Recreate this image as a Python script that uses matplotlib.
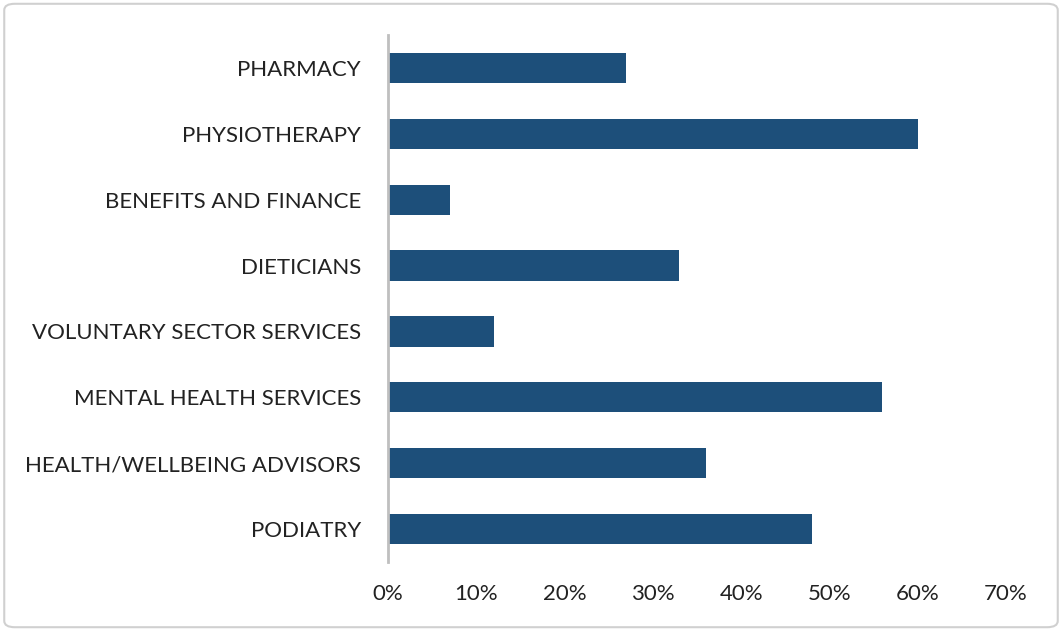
import matplotlib
matplotlib.use("Agg")
import matplotlib.pyplot as plt
from matplotlib.patches import FancyBboxPatch
from matplotlib.ticker import PercentFormatter

categories = [
    "PHARMACY",
    "PHYSIOTHERAPY",
    "BENEFITS AND FINANCE",
    "DIETICIANS",
    "VOLUNTARY SECTOR SERVICES",
    "MENTAL HEALTH SERVICES",
    "HEALTH/WELLBEING ADVISORS",
    "PODIATRY",
]
values = [27, 60, 7, 33, 12, 56, 36, 48]
x_ticks = [0, 10, 20, 30, 40, 50, 60, 70]

plt.rcParams["font.family"] = ["Lato", "DejaVu Sans"]

fig = plt.figure(figsize=(10.62, 6.31), dpi=100)
ax = fig.add_axes([0.3653, 0.1094, 0.582, 0.8351])

ypos = list(range(len(categories)))
ax.barh(ypos, values, height=0.46, color="#1d4f7a")
ax.set_ylim(len(categories) - 0.5, -0.5)
ax.set_xlim(0, 70)
ax.set_yticks(ypos)
ax.set_yticklabels(categories, fontsize=16, color="#222222")
ax.set_xticks(x_ticks)
ax.xaxis.set_major_formatter(PercentFormatter(decimals=0))
ax.tick_params(axis="x", labelsize=16, labelcolor="#222222", length=0, pad=16)
ax.tick_params(axis="y", length=0, pad=19.5)

for side in ["top", "right", "bottom"]:
    ax.spines[side].set_visible(False)
ax.spines["left"].set_color("#bfbfbf")
ax.spines["left"].set_linewidth(2)

border = FancyBboxPatch((0.004, 0.006), 0.992, 0.988,
                        boxstyle="round,pad=0,rounding_size=0.01",
                        transform=fig.transFigure, fill=False,
                        edgecolor="#d0d0d0", linewidth=1.5)
fig.patches.append(border)

fig.savefig("out.png", dpi=100)
